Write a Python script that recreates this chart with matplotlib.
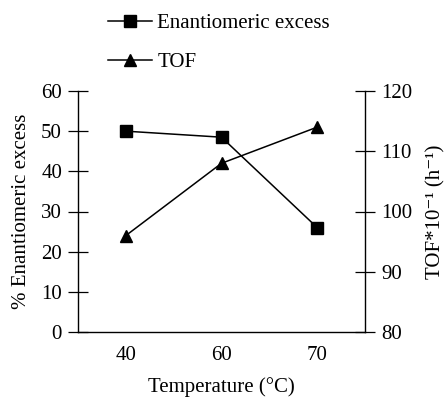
import matplotlib
matplotlib.use("Agg")
import matplotlib.pyplot as plt

plt.rcParams['font.family'] = ['Liberation Serif', 'DejaVu Serif']
plt.rcParams['mathtext.fontset'] = 'stix'

temps = ["40", "60", "70"]
ee = [50, 48.5, 26]
tof = [96, 108, 114]

FS = 15

fig = plt.figure(figsize=(4.44, 3.97), dpi=100)
ax = fig.add_axes([78/444, 1-332/397, (365-78)/444, (332-91)/397])
ax2 = ax.twinx()

x = list(range(len(temps)))
l1, = ax.plot(x, ee, color='black', lw=1.1, marker='s', markersize=8,
              label='Enantiomeric excess')
l2, = ax2.plot(x, tof, color='black', lw=1.1, marker='^', markersize=8,
               label='TOF')

ax.set_xlim(-0.5, 2.5)
ax.set_ylim(0, 60)
ax.set_yticks(range(0, 61, 10))
ax2.set_ylim(80, 120)
ax2.set_yticks(range(80, 121, 10))
ax.set_xticks(x)
ax.set_xticklabels(temps)

for a in (ax, ax2):
    a.spines['top'].set_visible(False)
    a.tick_params(labelsize=FS, width=0.9, length=15, direction='inout', color='black', pad=4)
ax.tick_params(axis='x', length=0, pad=10)
ax.spines['right'].set_visible(False)
ax2.spines['left'].set_visible(False)
ax2.spines['bottom'].set_visible(False)
for s in ('left', 'bottom'):
    ax.spines[s].set_linewidth(1.0)
ax2.spines['right'].set_linewidth(1.0)

ax.set_xlabel('Temperature (°C)', fontsize=FS, labelpad=8.5)
ax.set_ylabel('% Enantiomeric excess', fontsize=FS, labelpad=7)
ax2.set_ylabel('TOF*10⁻¹ (h⁻¹)', fontsize=FS, labelpad=10)

fig.legend(handles=[l1, l2], loc='upper left', bbox_to_anchor=(102/444, 1 - 7/397),
           frameon=False, fontsize=FS, handlelength=2.1, handletextpad=0.25,
           labelspacing=0.95, borderaxespad=0.1, borderpad=0.2)

fig.savefig('out.png', dpi=100)
